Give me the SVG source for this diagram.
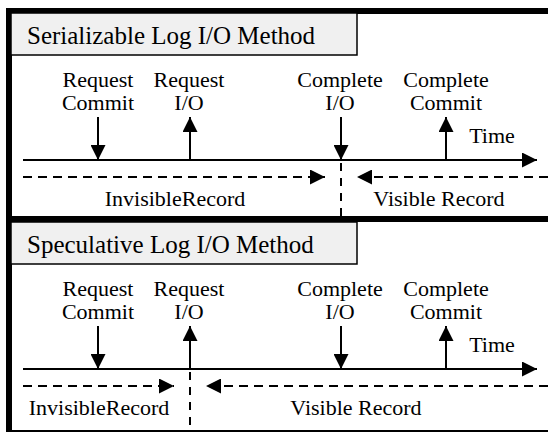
<svg xmlns="http://www.w3.org/2000/svg" width="548" height="432" viewBox="0 0 548 432">
<style>
.t{font-size:25px}
.l{font-size:22px;text-anchor:middle}
.ln{stroke:#000;stroke-width:2;fill:none}
.d{stroke:#000;stroke-width:2;fill:none;stroke-dasharray:9 6}
.dv{stroke:#000;stroke-width:2;fill:none;stroke-dasharray:8 7}
.box{fill:#f0f0f0;stroke:#000;stroke-width:1.5}
.frame{stroke:#000;stroke-width:6;fill:none}
</style>
<defs>
<marker id="ah" viewBox="0 0 15 15" refX="15" refY="7.5" markerWidth="15" markerHeight="15" markerUnits="userSpaceOnUse" orient="auto">
<path d="M0,0 L15,7.5 L0,15 Z" fill="#000"/>
</marker>
</defs>
<rect width="548" height="432" fill="#fff"/>
<g id="frame">
<path class="frame" d="M9,8 V432 M6,11 H548 M6,219 H548 M6,433 H548"/>
</g>
<g font-family="Liberation Serif, Times New Roman, DejaVu Serif, serif" fill="#000">
<g id="panel1">
<g id="title1"><rect class="box" x="11" y="13" width="346" height="42"/><text class="t" x="27" y="44">Serializable Log I/O Method</text></g>
<g id="p1-request-commit"><text class="l" x="98" y="87">Request</text><text class="l" x="98" y="110">Commit</text></g>
<g id="p1-request-io"><text class="l" x="189" y="87">Request</text><text class="l" x="189" y="110">I/O</text></g>
<g id="p1-complete-io"><text class="l" x="340" y="87">Complete</text><text class="l" x="340" y="110">I/O</text></g>
<g id="p1-complete-commit"><text class="l" x="446" y="87">Complete</text><text class="l" x="446" y="110">Commit</text></g>
<g id="p1-time"><text class="l" x="492" y="143">Time</text></g>
<g id="p1-invisible"><text class="l" x="175" y="206">InvisibleRecord</text></g>
<g id="p1-visible"><text class="l" x="439" y="206">Visible Record</text></g>
<g id="p1-connectors">
<line class="ln" x1="23" y1="160" x2="537" y2="160" marker-end="url(#ah)"/>
<line class="ln" x1="98" y1="117" x2="98" y2="160" marker-end="url(#ah)"/>
<line class="ln" x1="190" y1="160" x2="190" y2="117" marker-end="url(#ah)"/>
<line class="ln" x1="341" y1="117" x2="341" y2="160" marker-end="url(#ah)"/>
<line class="ln" x1="446" y1="160" x2="446" y2="117" marker-end="url(#ah)"/>
<line class="d" x1="23" y1="177" x2="325" y2="177" marker-end="url(#ah)"/>
<line class="d" x1="548" y1="177" x2="357" y2="177" marker-end="url(#ah)"/>
<line class="dv" x1="341" y1="163" x2="341" y2="216"/>
</g>
</g>
<g id="panel2" transform="translate(0,209)">
<g id="title2"><rect class="box" x="11" y="13" width="346" height="42"/><text class="t" x="27" y="44">Speculative Log I/O Method</text></g>
<g id="p2-request-commit"><text class="l" x="98" y="87">Request</text><text class="l" x="98" y="110">Commit</text></g>
<g id="p2-request-io"><text class="l" x="189" y="87">Request</text><text class="l" x="189" y="110">I/O</text></g>
<g id="p2-complete-io"><text class="l" x="340" y="87">Complete</text><text class="l" x="340" y="110">I/O</text></g>
<g id="p2-complete-commit"><text class="l" x="446" y="87">Complete</text><text class="l" x="446" y="110">Commit</text></g>
<g id="p2-time"><text class="l" x="492" y="143">Time</text></g>
<g id="p2-invisible"><text class="l" x="99" y="206">InvisibleRecord</text></g>
<g id="p2-visible"><text class="l" x="356" y="206">Visible Record</text></g>
<g id="p2-connectors">
<line class="ln" x1="23" y1="160" x2="537" y2="160" marker-end="url(#ah)"/>
<line class="ln" x1="98" y1="117" x2="98" y2="160" marker-end="url(#ah)"/>
<line class="ln" x1="190" y1="160" x2="190" y2="117" marker-end="url(#ah)"/>
<line class="ln" x1="341" y1="117" x2="341" y2="160" marker-end="url(#ah)"/>
<line class="ln" x1="446" y1="160" x2="446" y2="117" marker-end="url(#ah)"/>
<line class="d" x1="23" y1="177" x2="174" y2="177" marker-end="url(#ah)"/>
<line class="d" x1="548" y1="177" x2="206" y2="177" marker-end="url(#ah)"/>
<line class="dv" x1="190" y1="163" x2="190" y2="216"/>
</g>
</g>
</g>
</svg>
